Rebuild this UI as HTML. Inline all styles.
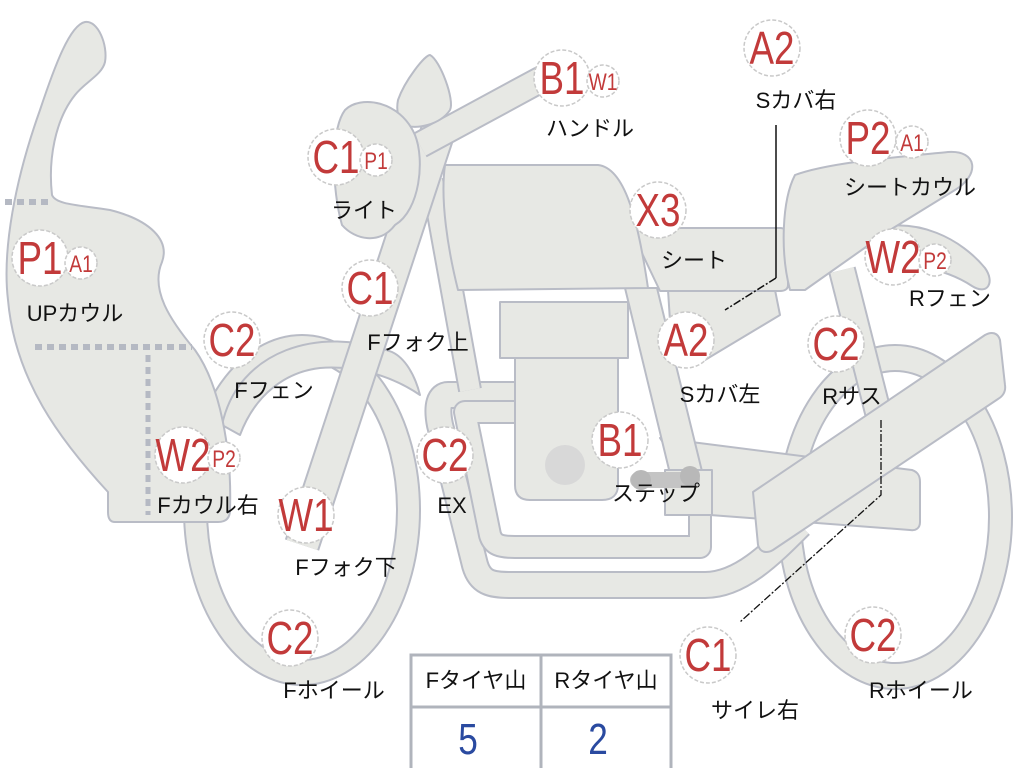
<!DOCTYPE html>
<html><head><meta charset="utf-8"><style>
html,body{margin:0;padding:0;background:#fff;width:1024px;height:768px;overflow:hidden}
svg{display:block}
.r{fill:#c23a3a;font-family:"Liberation Sans",sans-serif;text-anchor:middle}
.k{fill:#111;font-family:"Liberation Sans","Noto Sans CJK JP",sans-serif;font-size:22px;text-anchor:middle}
.c{fill:#fff;stroke:#c9c9c9;stroke-width:1.5;stroke-dasharray:4 2}
</style></head><body>
<svg width="1024" height="768" viewBox="0 0 1024 768" xmlns="http://www.w3.org/2000/svg">
<defs>
<style>.s{fill:#e7e8e4;stroke:#b9bcc6;stroke-width:2;stroke-linejoin:round}
.bo{fill:none;stroke:#b9bcc6;stroke-linecap:butt;stroke-linejoin:round}
.bi{fill:none;stroke:#e7e8e4;stroke-linecap:butt;stroke-linejoin:round}</style>
</defs>
<ellipse class="s" cx="302" cy="510" rx="118" ry="175"/>
<ellipse cx="302" cy="510" rx="95" ry="150" fill="#fff" stroke="#b9bcc6" stroke-width="2"/>
<ellipse class="s" cx="895" cy="517" rx="117" ry="172"/>
<ellipse cx="895" cy="517" rx="94" ry="146" fill="#fff" stroke="#b9bcc6" stroke-width="2"/>
<path class="s" d="M222,425 C238,350 320,325 392,352 C405,358 415,375 420,395 C395,378 360,365 320,368 C285,372 255,395 240,435 Z"/>
<path class="bo" stroke-width="28" d="M520,395 L448,395 C440,395 436,405 440,425 L475,565 C480,582 490,585 510,585 L705,585 C740,585 770,555 800,525"/>
<path class="bi" stroke-width="24" d="M520,395 L448,395 C440,395 436,405 440,425 L475,565 C480,582 490,585 510,585 L705,585 C740,585 770,555 800,525"/>
<path class="bo" stroke-width="24" d="M520,412 L465,412 L490,535 C493,545 500,547 515,547 L700,547 L700,505"/>
<path class="bi" stroke-width="20" d="M520,412 L465,412 L490,535 C493,545 500,547 515,547 L700,547 L700,505"/>
<path class="bo" stroke-width="24" d="M432,180 L470,390"/>
<path class="bi" stroke-width="20" d="M432,180 L470,390"/>
<path class="s" d="M660,438 L912,470 C918,472 920,476 920,482 L920,522 C920,528 916,531 910,530 L710,515 Z"/>
<path class="bo" stroke-width="28" d="M842,270 L885,440"/>
<path class="bi" stroke-width="24" d="M842,270 L885,440"/>
<path class="s" d="M625,288 L657,288 L712,512 L680,515 Z"/>
<rect class="s" x="665" y="470" width="47" height="45"/>
<path class="s" d="M515,358 L618,358 L618,485 C618,495 612,500 602,500 L530,500 C520,500 515,495 515,485 Z"/>
<rect class="s" x="500" y="302" width="128" height="56"/>
<circle cx="565" cy="465" r="20" fill="#d8d8d8"/>
<rect x="630" y="472" width="70" height="16" rx="8" fill="#c4c4c4"/>
<circle cx="641" cy="480" r="10" fill="#b8b8b8"/>
<circle cx="690" cy="476" r="10" fill="#b8b8b8"/>
<path class="s" d="M668,290 L775,290 L780,315 L705,360 L672,352 Z"/>
<path class="s" d="M630,228 L780,228 C785,228 788,232 788,236 L788,285 C788,289 785,291 780,291 L660,291 Z"/>
<path class="s" d="M445,165 L598,165 C625,168 638,220 648,288 L458,290 C448,250 440,200 445,165 Z"/>
<path class="s" d="M868,230 C918,215 962,240 985,268 C995,282 988,296 972,286 C942,266 900,262 868,265 Z"/>
<path class="s" d="M795,175 C830,162 900,157 948,152 C978,150 980,175 955,190 L890,230 L805,290 L790,290 C780,252 782,200 795,175 Z"/>
<path class="s" d="M753,492 L985,335 C992,331 998,333 1000,340 L1005,385 C1006,392 1003,396 998,399 L773,550 C766,554 760,552 758,545 Z"/>
<path class="bo" stroke-width="36" d="M440,125 L302,545"/>
<path class="bi" stroke-width="32" d="M440,125 L302,545"/>
<path class="bo" stroke-width="28" d="M420,145 L540,80 L575,78"/>
<path class="bi" stroke-width="24" d="M420,145 L540,80 L575,78"/>
<path class="s" d="M398,100 C405,80 425,55 430,55 C440,60 455,100 450,110 C440,125 415,130 405,125 C398,120 396,110 398,100 Z"/>
<path class="s" d="M345,110 C360,95 400,100 415,135 C425,160 420,210 395,225 C380,245 355,240 342,225 C332,190 330,130 345,110 Z"/>
<path class="s" d="M85,22 C98,20 108,45 105,62 C102,75 85,82 75,95 C55,120 48,160 52,195 C56,205 80,205 110,210 C150,220 170,240 162,262 C150,290 170,320 195,350 C220,385 232,450 230,510 C230,518 226,522 218,522 L115,522 C110,522 108,518 108,512 L108,492 C60,440 15,380 8,300 C2,250 15,180 40,110 C55,65 70,25 85,22 Z"/>
<line x1="5" y1="202" x2="50" y2="202" stroke="#b5b9c3" stroke-width="6" stroke-dasharray="7 5"/>
<line x1="35" y1="347" x2="192" y2="347" stroke="#b5b9c3" stroke-width="6" stroke-dasharray="7 5"/>
<line x1="148" y1="355" x2="148" y2="515" stroke="#b5b9c3" stroke-width="5" stroke-dasharray="7 5"/>
<polyline points="776,125 776,278" fill="none" stroke="#111" stroke-width="1.5"/>
<polyline points="776,278 725,310" fill="none" stroke="#111" stroke-width="1.5" stroke-dasharray="8 2 2 2"/>
<polyline points="881,420 881,495 740,622" fill="none" stroke="#111" stroke-width="1.3" stroke-dasharray="8 2 2 2"/>
<rect x="411" y="655" width="260" height="115" fill="#fff" stroke="#b0b4bc" stroke-width="3"/>
<line x1="411" y1="707" x2="671" y2="707" stroke="#b0b4bc" stroke-width="3"/>
<line x1="541" y1="655" x2="541" y2="768" stroke="#b0b4bc" stroke-width="3"/>
<text class="k" x="476" y="688">Fタイヤ山</text>
<text class="k" x="606" y="688">Rタイヤ山</text>
<text fill="#2a4aa0" font-family="Liberation Sans,sans-serif" font-size="44" text-anchor="middle" transform="translate(468,754) scale(0.8,1)">5</text>
<text fill="#2a4aa0" font-family="Liberation Sans,sans-serif" font-size="44" text-anchor="middle" transform="translate(598,754) scale(0.8,1)">2</text>
<g>
<circle class="c" cx="40" cy="258" r="28"/><text class="r" font-size="46" transform="translate(40,274) scale(0.8,1)">P1</text>
<circle class="c" cx="81" cy="263" r="16"/><text class="r" font-size="24" transform="translate(81,272) scale(0.8,1)">A1</text>
<circle class="c" cx="232" cy="340" r="28"/><text class="r" font-size="46" transform="translate(232,356) scale(0.8,1)">C2</text>
<circle class="c" cx="183" cy="455" r="28"/><text class="r" font-size="46" transform="translate(183,471) scale(0.8,1)">W2</text>
<circle class="c" cx="224" cy="458" r="16"/><text class="r" font-size="24" transform="translate(224,467) scale(0.8,1)">P2</text>
<circle class="c" cx="336" cy="157" r="28"/><text class="r" font-size="46" transform="translate(336,173) scale(0.8,1)">C1</text>
<circle class="c" cx="376" cy="160" r="16"/><text class="r" font-size="24" transform="translate(376,169) scale(0.8,1)">P1</text>
<circle class="c" cx="370" cy="288" r="28"/><text class="r" font-size="46" transform="translate(370,304) scale(0.8,1)">C1</text>
<circle class="c" cx="306" cy="515" r="28"/><text class="r" font-size="46" transform="translate(306,531) scale(0.8,1)">W1</text>
<circle class="c" cx="290" cy="638" r="28"/><text class="r" font-size="46" transform="translate(290,654) scale(0.8,1)">C2</text>
<circle class="c" cx="445" cy="455" r="28"/><text class="r" font-size="46" transform="translate(445,471) scale(0.8,1)">C2</text>
<circle class="c" cx="562" cy="78" r="28"/><text class="r" font-size="46" transform="translate(562,94) scale(0.8,1)">B1</text>
<circle class="c" cx="603" cy="81" r="16"/><text class="r" font-size="24" transform="translate(603,90) scale(0.8,1)">W1</text>
<circle class="c" cx="772" cy="48" r="28"/><text class="r" font-size="46" transform="translate(772,64) scale(0.8,1)">A2</text>
<circle class="c" cx="868" cy="138" r="28"/><text class="r" font-size="46" transform="translate(868,154) scale(0.8,1)">P2</text>
<circle class="c" cx="912" cy="142" r="16"/><text class="r" font-size="24" transform="translate(912,151) scale(0.8,1)">A1</text>
<circle class="c" cx="658" cy="210" r="28"/><text class="r" font-size="46" transform="translate(658,226) scale(0.8,1)">X3</text>
<circle class="c" cx="893" cy="257" r="28"/><text class="r" font-size="46" transform="translate(893,273) scale(0.8,1)">W2</text>
<circle class="c" cx="935" cy="260" r="16"/><text class="r" font-size="24" transform="translate(935,269) scale(0.8,1)">P2</text>
<circle class="c" cx="686" cy="340" r="28"/><text class="r" font-size="46" transform="translate(686,356) scale(0.8,1)">A2</text>
<circle class="c" cx="836" cy="344" r="28"/><text class="r" font-size="46" transform="translate(836,360) scale(0.8,1)">C2</text>
<circle class="c" cx="620" cy="440" r="28"/><text class="r" font-size="46" transform="translate(620,456) scale(0.8,1)">B1</text>
<circle class="c" cx="708" cy="655" r="28"/><text class="r" font-size="46" transform="translate(708,671) scale(0.8,1)">C1</text>
<circle class="c" cx="873" cy="635" r="28"/><text class="r" font-size="46" transform="translate(873,651) scale(0.8,1)">C2</text>
</g>
<text class="k" x="75" y="321">UPカウル</text>
<text class="k" x="274" y="398">Fフェン</text>
<text class="k" x="208" y="513">Fカウル右</text>
<text class="k" x="364" y="218">ライト</text>
<text class="k" x="418" y="350">Fフォク上</text>
<text class="k" x="346" y="575">Fフォク下</text>
<text class="k" x="334" y="698">Fホイール</text>
<text class="k" x="452" y="513">EX</text>
<text class="k" x="590" y="136">ハンドル</text>
<text class="k" x="796" y="108">Sカバ右</text>
<text class="k" x="910" y="195">シートカウル</text>
<text class="k" x="694" y="268">シート</text>
<text class="k" x="950" y="306">Rフェン</text>
<text class="k" x="720" y="402">Sカバ左</text>
<text class="k" x="852" y="404">Rサス</text>
<text class="k" x="656" y="501">ステップ</text>
<text class="k" x="755" y="718">サイレ右</text>
<text class="k" x="921" y="698">Rホイール</text>
</svg>
</body></html>
